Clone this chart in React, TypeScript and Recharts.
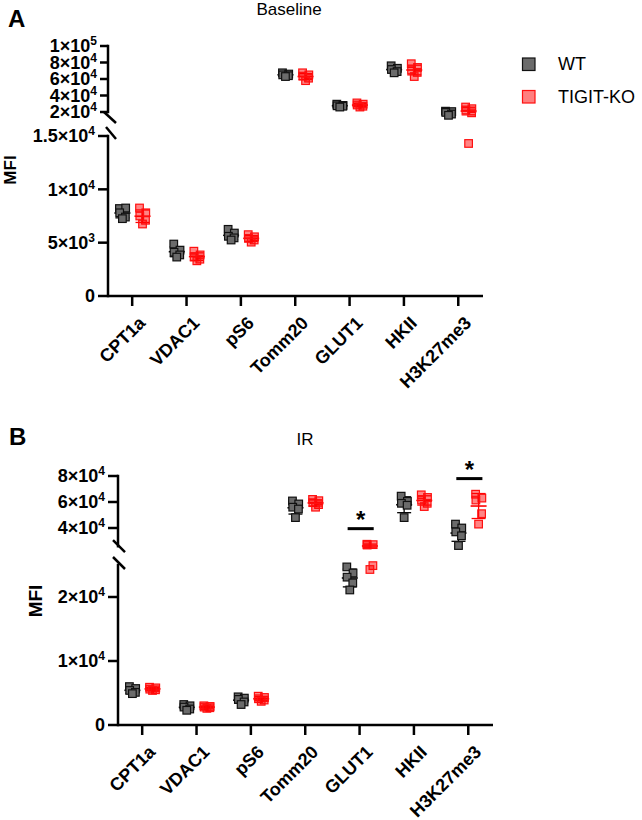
import React from "react";
import { ScatterChart, Scatter, XAxis, YAxis, ReferenceLine, ErrorBar } from "recharts";

const FONT = "'Liberation Sans', Arial, Helvetica, sans-serif";

// ---------------- data ----------------
const categories = ["CPT1a", "VDAC1", "pS6", "Tomm20", "GLUT1", "HKII", "H3K27me3"];
const seriesNames = ["WT", "TIGIT-KO"];

const baselineWT: number[][] = [
  [8200, 8250, 7800, 7400, 7250],
  [4870, 4300, 4100, 3850, 3650],
  [6250, 5900, 5600, 5450, 5250],
  [67500, 66000, 65000, 64000, 63000],
  [29500, 28000, 27500, 27000, 26000],
  [76000, 73000, 71500, 69000, 67500],
  [21000, 20500, 19500, 17500, 16000],
];
const baselineKO: number[][] = [
  [8250, 7800, 7500, 7100, 6750],
  [4200, 3850, 3650, 3450, 3300],
  [5750, 5550, 5400, 5250, 5050],
  [67500, 65000, 63500, 61000, 58000],
  [31000, 29500, 28500, 27000, 26000],
  [78500, 74000, 71000, 68000, 63000],
  [26000, 24000, 22500, 19000, 14300],
];
const irWT: number[][] = [
  [6000, 5700, 5400, 5100, 4900],
  [3200, 3000, 2800, 2500, 2300],
  [4400, 4200, 4000, 3600, 3200],
  [60800, 58500, 56000, 54600, 48000],
  [24700, 23750, 23100, 22200, 21100],
  [64500, 60500, 59000, 57500, 48000],
  [43000, 40000, 37000, 34000, 26500],
];
const irKO: number[][] = [
  [5900, 5800, 5600, 5500, 5400],
  [3000, 2900, 2800, 2700, 2600],
  [4500, 4300, 4100, 3900, 3700],
  [62000, 61000, 59500, 58000, 56000],
  [27500, 27200, 26900, 24900, 24300],
  [65500, 63500, 61500, 59000, 56500],
  [66000, 63000, 61500, 51000, 43000],
];
const irSignificant = ["GLUT1", "H3K27me3"];

const baselineTicksUpper = [20000, 40000, 60000, 80000, 100000];
const baselineTicksLower = [0, 5000, 10000, 15000];
const irTicksUpper = [40000, 60000, 80000];
const irTicksLower = [0, 10000, 20000];

// ---------------- layout / style ----------------
const X_DOMAIN: [number, number] = [-0.445, 6.455];
const PXU = 375 / (X_DOMAIN[1] - X_DOMAIN[0]);
const GROUP_OFFSET = [-0.18, 0.19];
const JITTER = [-0.055, 0.06, -0.05, 0.055, 0.0];
const STYLE = [
  { fill: "#6b6b6b", fillOpacity: 1, stroke: "#111111", mean: "#000000" },
  { fill: "#ff0000", fillOpacity: 0.48, stroke: "#ff1010", mean: "#ff0000" },
];
const AXIS = { stroke: "#000", strokeWidth: 2.5 };

type Seg = {
  top: number;
  height: number;
  plotLeft: number;
  domain: [number, number];
  anchorValue: number;
  anchorPx: number;
  k: number;
  visible: [number, number];
  ticks: number[];
  accept: (v: number) => boolean;
  xAxis: boolean;
  tickSize: number;
  labelDy: number;
  slashAnchor: number;
  slash: [number, number, number, number];
};

const SEG_UA: Seg = {
  top: 30, height: 100, plotLeft: 108, domain: [12000, 104000],
  anchorValue: 100000, anchorPx: 46, k: 66 / 80000,
  visible: [20000, 100000], ticks: baselineTicksUpper,
  accept: (v) => v > 15000, xAxis: false, tickSize: 8, labelDy: 7,
  slashAnchor: 20000, slash: [-4, 0, 8, 11],
};
const SEG_LA: Seg = {
  top: 120, height: 310, plotLeft: 108, domain: [0, 15500],
  anchorValue: 0, anchorPx: 296, k: 160 / 15000,
  visible: [0, 15000], ticks: baselineTicksLower,
  accept: (v) => v <= 15000, xAxis: true, tickSize: 10, labelDy: 7,
  slashAnchor: 15000, slash: [-2, -9, 8, 3],
};
const SEG_UB: Seg = {
  top: 450, height: 110, plotLeft: 118, domain: [23000, 95000],
  anchorValue: 80000, anchorPx: 476, k: 52 / 40000,
  visible: [26000, 80000], ticks: irTicksUpper,
  accept: (v) => v >= 26000, xAxis: false, tickSize: 10, labelDy: 7,
  slashAnchor: 26000, slash: [-5, -6, 7, 6],
};
const SEG_LB: Seg = {
  top: 555, height: 265, plotLeft: 118, domain: [0, 26000],
  anchorValue: 0, anchorPx: 725, k: 0.0064,
  visible: [0, 25000], ticks: irTicksLower,
  accept: (v) => v < 26000, xAxis: true, tickSize: 10, labelDy: 7,
  slashAnchor: 25000, slash: [-5, -8, 7, 4],
};

function mean(a: number[]) {
  return a.reduce((s, v) => s + v, 0) / a.length;
}
function sd(a: number[]) {
  const m = mean(a);
  return Math.sqrt(a.reduce((s, v) => s + (v - m) * (v - m), 0) / (a.length - 1));
}

const PowTick = (props: any) => {
  const { x, y, payload } = props;
  const v = payload.value as number;
  let main = "0";
  let exp = "";
  if (v !== 0) {
    const e = Math.floor(Math.log10(v));
    const m = v / Math.pow(10, e);
    main = `${+m.toFixed(2)}×10`;
    exp = String(e);
  }
  return (
    <text x={x} y={y} dy="0.36em" textAnchor="end" fontSize={18} fontWeight="bold" fontFamily={FONT} fill="#000">
      {main}
      {exp && (
        <tspan dy={-7} fontSize={12}>
          {exp}
        </tspan>
      )}
    </text>
  );
};

const makeCatTick = (labelDy: number) => (props: any) => {
  const { x, y, payload } = props;
  return (
    <g transform={`translate(${x + 5},${y + labelDy})`}>
      <text transform="rotate(-45)" textAnchor="end" dy="0.72em" fontSize={18} fontWeight="bold" fontFamily={FONT} fill="#000">
        {categories[payload.value]}
      </text>
    </g>
  );
};

const squareShape = (s: number) => (props: any) => {
  const { cx, cy } = props;
  const h = 3.8;
  return (
    <rect x={cx - h} y={cy - h} width={2 * h} height={2 * h} fill={STYLE[s].fill} fillOpacity={STYLE[s].fillOpacity} stroke={STYLE[s].stroke} strokeWidth={1.2} />
  );
};
const meanShape = (s: number) => (props: any) => {
  const { cx, cy } = props;
  return <line x1={cx - 8} x2={cx + 8} y1={cy} y2={cy} stroke={STYLE[s].mean} strokeWidth={1.6} />;
};

function Segment({ seg, wt, ko, sig }: { seg: Seg; wt: number[][]; ko: number[][]; sig?: string[] }) {
  const plotTop = seg.anchorPx - (seg.domain[1] - seg.anchorValue) * seg.k;
  const plotH = (seg.domain[1] - seg.domain[0]) * seg.k;
  const mt = plotTop - seg.top;
  const rest = seg.height - (mt + plotH);
  const width = seg.plotLeft + 375 + 20;
  const groups = [wt, ko];
  const pts: { x: number; y: number }[][] = [[], []];
  const means: { x: number; y: number; err: number }[][] = [[], []];
  groups.forEach((g, s) => {
    g.forEach((vals, i) => {
      vals.forEach((v, j) => {
        if (seg.accept(v)) pts[s].push({ x: i + GROUP_OFFSET[s] + JITTER[j % JITTER.length], y: v });
      });
      const m = mean(vals);
      if (m >= seg.visible[0] && m <= seg.visible[1]) means[s].push({ x: i + GROUP_OFFSET[s], y: m, err: sd(vals) });
    });
  });
  const x0 = X_DOMAIN[0];
  const sl = seg.slash;
  const slashSeg = [
    { x: x0 + sl[0] / PXU, y: seg.slashAnchor - sl[1] / seg.k },
    { x: x0 + sl[2] / PXU, y: seg.slashAnchor - sl[3] / seg.k },
  ];
  const sigLines = (sig || []).map((c) => {
    const i = categories.indexOf(c);
    const level = Math.max(...wt[i], ...ko[i]) + 12000;
    return { i, level };
  });
  return (
    <div style={{ position: "absolute", left: 0, top: seg.top }}>
      <ScatterChart width={width} height={seg.height} margin={{ top: mt, right: 20, bottom: seg.xAxis ? 0 : rest, left: 0 }}>
        <XAxis
          type="number"
          dataKey="x"
          domain={X_DOMAIN}
          ticks={[0, 1, 2, 3, 4, 5, 6]}
          interval={0}
          hide={!seg.xAxis}
          height={seg.xAxis ? rest : 0}
          tick={makeCatTick(seg.labelDy)}
          tickSize={10}
          axisLine={AXIS}
          tickLine={AXIS}
        />
        <YAxis
          type="number"
          dataKey="y"
          domain={seg.domain}
          ticks={seg.ticks}
          interval={0}
          width={seg.plotLeft}
          axisLine={false}
          tickLine={AXIS}
          tickSize={seg.tickSize}
          tickMargin={3}
          tick={PowTick}
        />
        <ReferenceLine
          segment={[{ x: x0, y: seg.visible[0] }, { x: x0, y: seg.visible[1] }]}
          stroke="#000"
          strokeWidth={2.5}
          strokeLinecap="square"
          ifOverflow="visible"
        />
        <ReferenceLine segment={slashSeg} stroke="#000" strokeWidth={2.5} ifOverflow="visible" />
        {sigLines.map((sL) => (
          <ReferenceLine
            key={sL.i}
            segment={[{ x: sL.i - 0.22, y: sL.level }, { x: sL.i + 0.26, y: sL.level }]}
            stroke="#000"
            strokeWidth={3}
            ifOverflow="visible"
            label={{ value: "*", position: "top", offset: 1, fontSize: 24, fontWeight: 700, fill: "#000", fontFamily: FONT }}
          />
        ))}
        {[0, 1].map((s) => (
          <Scatter key={"m" + s} name={seriesNames[s] + " mean"} data={means[s]} shape={meanShape(s)} isAnimationActive={false}>
            <ErrorBar dataKey="err" direction="y" width={7} stroke={STYLE[s].mean} strokeWidth={1.3} isAnimationActive={false} />
          </Scatter>
        ))}
        {[0, 1].map((s) => (
          <Scatter key={"p" + s} name={seriesNames[s]} data={pts[s]} shape={squareShape(s)} isAnimationActive={false} />
        ))}
      </ScatterChart>
    </div>
  );
}

export default function App() {
  return (
    <div style={{ position: "absolute", left: 0, top: 0, width: 642, height: 820, background: "#fff", fontFamily: FONT }}>
      <Segment seg={SEG_UA} wt={baselineWT} ko={baselineKO} />
      <Segment seg={SEG_LA} wt={baselineWT} ko={baselineKO} />
      <Segment seg={SEG_UB} wt={irWT} ko={irKO} sig={irSignificant} />
      <Segment seg={SEG_LB} wt={irWT} ko={irKO} />
      <svg width={642} height={820} style={{ position: "absolute", left: 0, top: 0, pointerEvents: "none" }}>
        <text x={8} y={27} fontSize={24} fontWeight="bold" fontFamily={FONT}>A</text>
        <text x={289} y={15} fontSize={17} textAnchor="middle" fontFamily={FONT}>Baseline</text>
        <text transform="translate(16,170) rotate(-90)" textAnchor="middle" fontSize={17} fontWeight="bold" fontFamily={FONT}>MFI</text>
        <text x={9} y={445} fontSize={24} fontWeight="bold" fontFamily={FONT}>B</text>
        <text x={305} y={445} fontSize={17} textAnchor="middle" fontFamily={FONT}>IR</text>
        <text transform="translate(42,601) rotate(-90)" textAnchor="middle" fontSize={19} fontWeight="bold" fontFamily={FONT}>MFI</text>
        {seriesNames.map((n, s) => (
          <g key={n}>
            <rect x={522.5} y={58 + s * 32.5} width={12.5} height={12.5} fill={STYLE[s].fill} fillOpacity={s === 1 ? 0.5 : 1} stroke={STYLE[s].stroke} strokeWidth={1.2} />
            <text x={558} y={64 + s * 32.5} dy="0.36em" fontSize={18} fontFamily={FONT}>{n}</text>
          </g>
        ))}
      </svg>
    </div>
  );
}
